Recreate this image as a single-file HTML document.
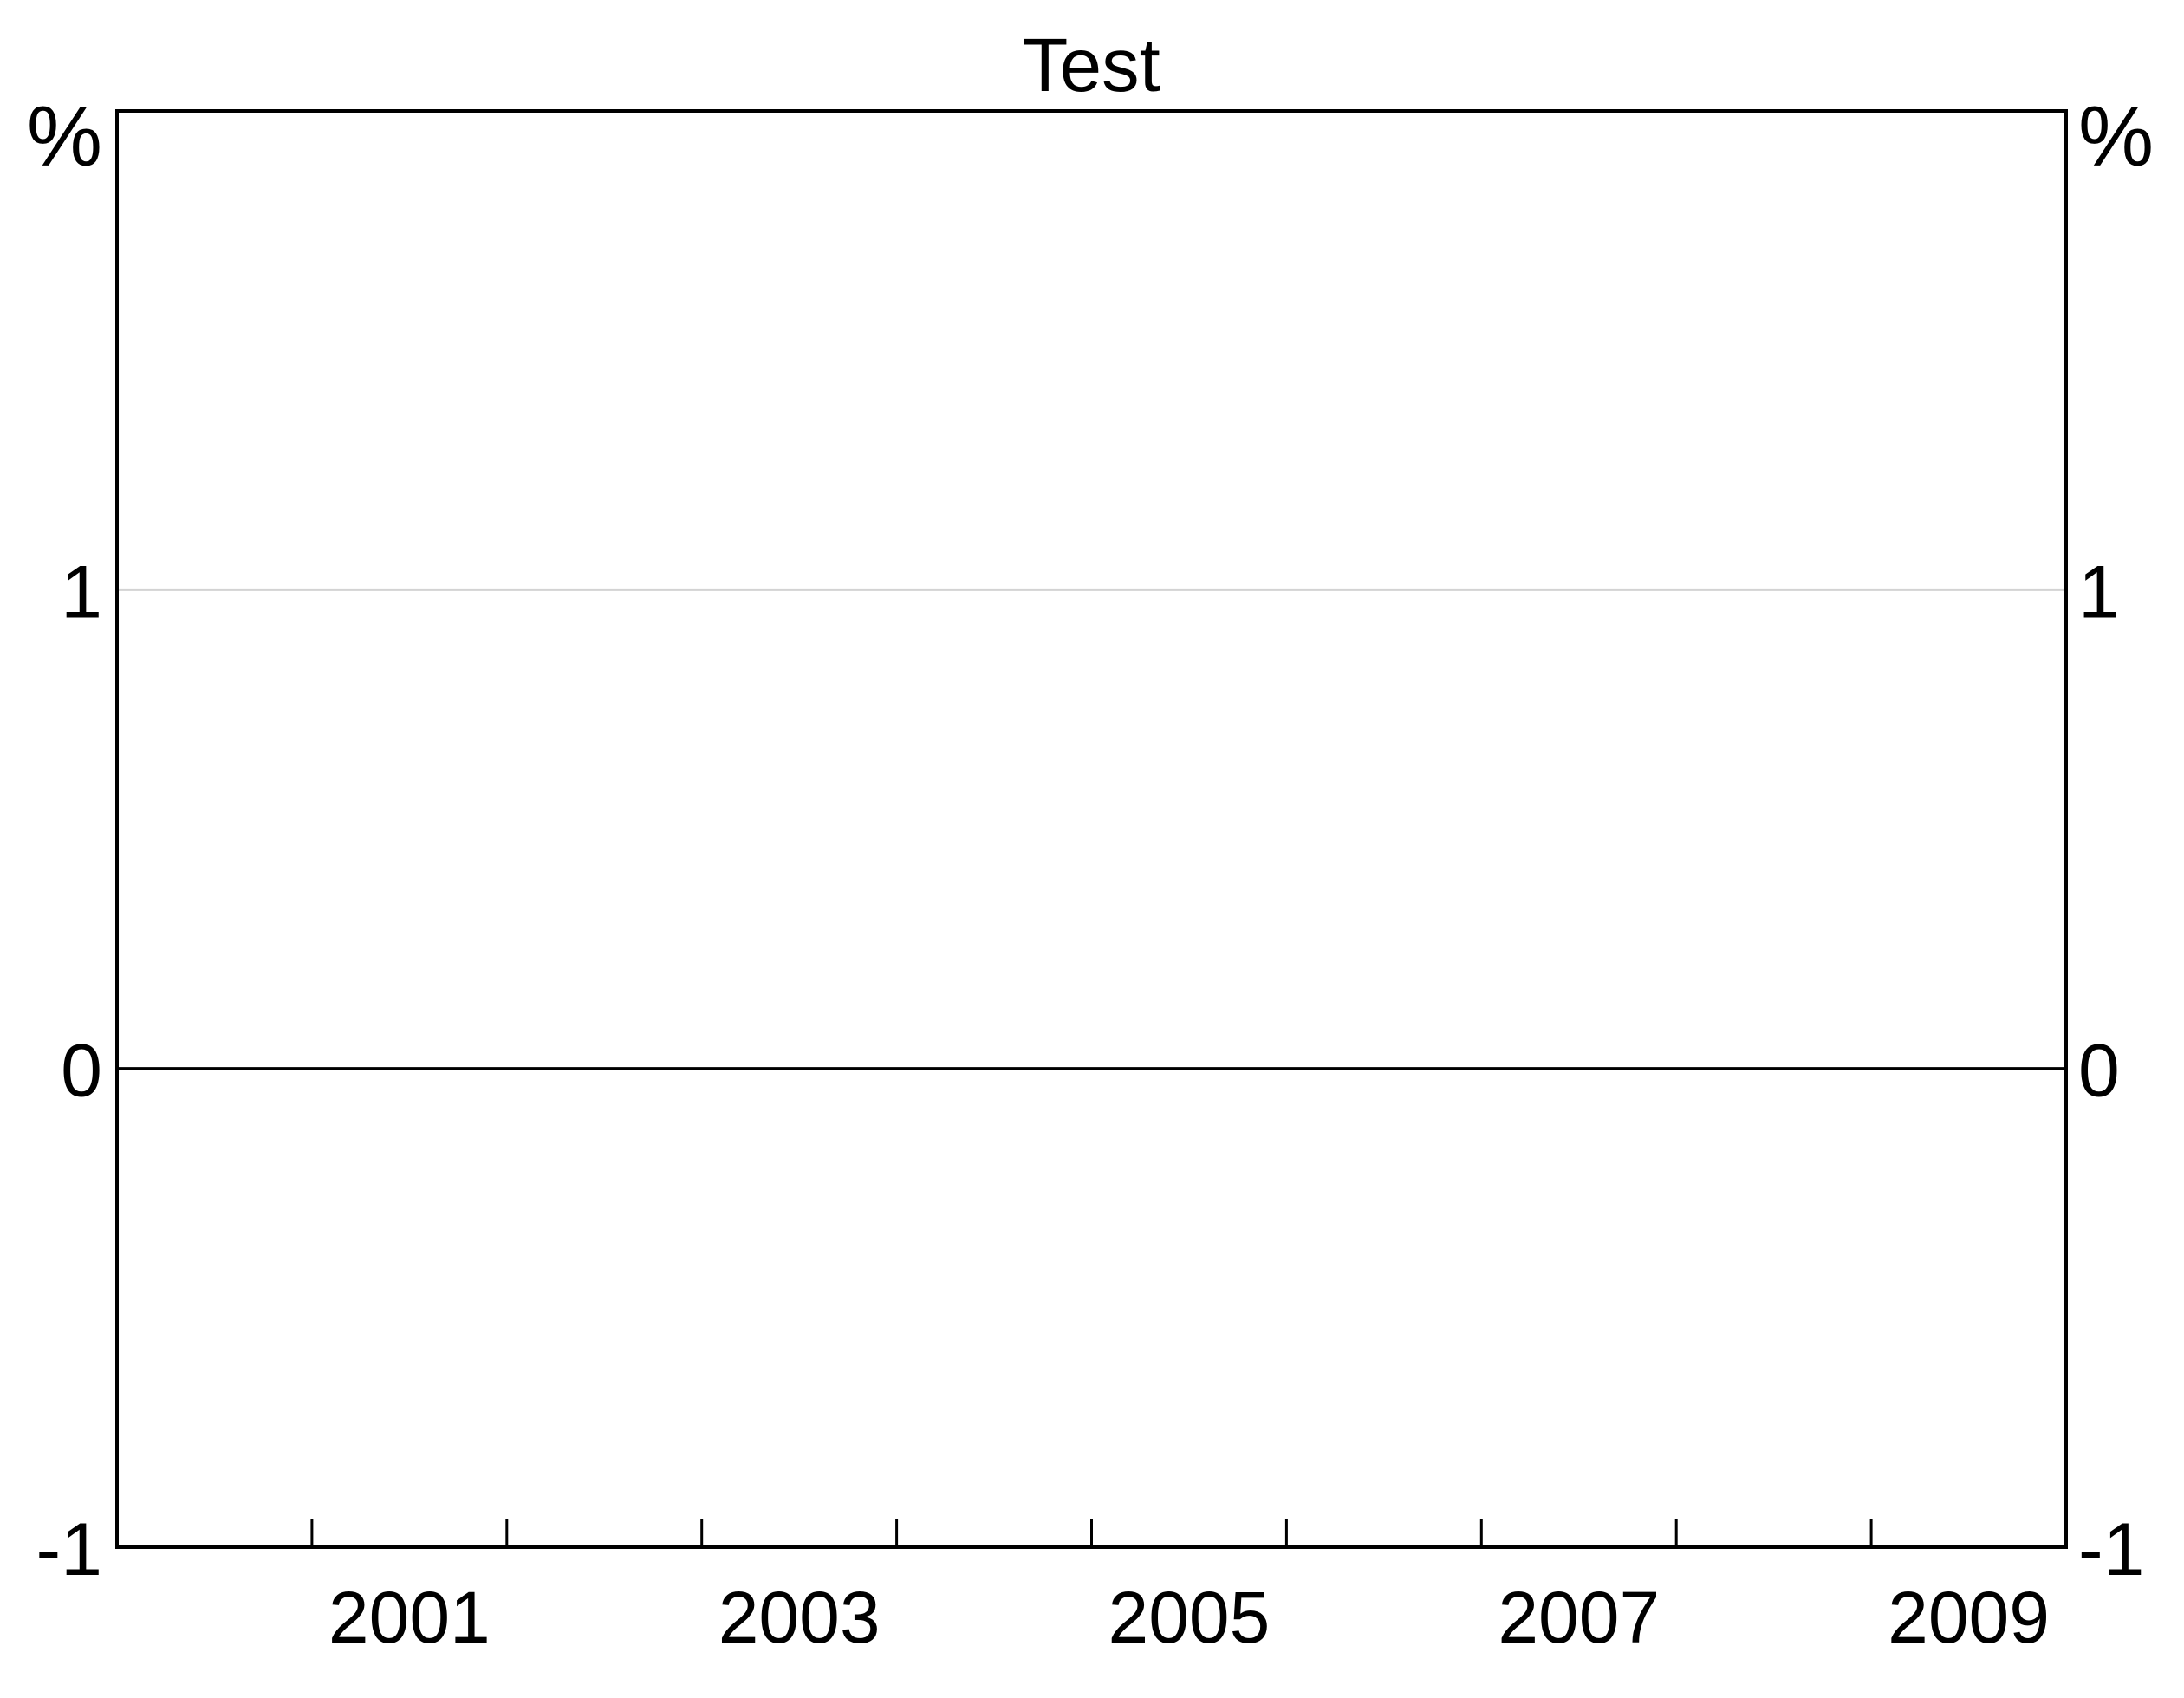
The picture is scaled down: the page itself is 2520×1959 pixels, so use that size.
<!DOCTYPE html>
<html><head><meta charset="utf-8"><style>
html,body{margin:0;padding:0;background:#fff;}
svg{display:block;font-family:"Liberation Sans",Arial,sans-serif;}
</style></head><body>
<svg id="chart" width="2520" height="1959" viewBox="0 0 2520 1959" xmlns="http://www.w3.org/2000/svg">
<rect x="0" y="0" width="2520" height="1959" fill="#fff"/>
<text x="1259" y="105" font-size="87" text-anchor="middle">Test</text>
<g id="grid"></g>
<g id="ylabels"></g>
<g id="xaxis"></g>
<rect x="135" y="128" width="2249" height="1657" fill="none" stroke="#000" stroke-width="4"/>
<text x="118" y="191" font-size="98" text-anchor="end">%</text>
<text x="2398" y="191" font-size="98" text-anchor="start">%</text>
</svg>
<script>
const yTicks = [-1, 0, 1];
const gridValues = [1];
const zeroValues = [0];
const xTickYears = [2001, 2002, 2003, 2004, 2005, 2006, 2007, 2008, 2009];
const xLabelYears = [2001, 2003, 2005, 2007, 2009];
const xDomain = [2000, 2010];
const yDomain = [-1, 2];

const L = 135, R = 2384, T = 128, B = 1785;
const NS = 'http://www.w3.org/2000/svg';
function xs(v){ return L + (v - xDomain[0]) / (xDomain[1] - xDomain[0]) * (R - L); }
function ys(v){ return B - (v - yDomain[0]) / (yDomain[1] - yDomain[0]) * (B - T); }
function mk(tag, attrs, parent){
  const e = document.createElementNS(NS, tag);
  for (const k in attrs) e.setAttribute(k, attrs[k]);
  parent.appendChild(e);
  return e;
}
const grid = document.getElementById('grid');
gridValues.forEach(v => {
  const l = mk('line', {x1: L, x2: R, y1: ys(v), y2: ys(v), stroke: '#d3d3d3', 'stroke-width': 3}, grid);
  
  
});
zeroValues.forEach(v => {
  const l = mk('line', {x1: L, x2: R, y1: ys(v), y2: ys(v), stroke: '#000', 'stroke-width': 3}, grid);
  
  
});
const yl = document.getElementById('ylabels');
yTicks.forEach(v => {
  const a = mk('text', {x: 118, y: ys(v) + 32, 'font-size': 86, 'text-anchor': 'end'}, yl);
  a.textContent = String(v);
  
  
  const b = mk('text', {x: 2398, y: ys(v) + 32, 'font-size': 86, 'text-anchor': 'start'}, yl);
  b.textContent = String(v);
  
  
});
const xa = document.getElementById('xaxis');
xTickYears.forEach(y => {
  const t = mk('line', {x1: xs(y), x2: xs(y), y1: B, y2: B - 33, stroke: '#000', 'stroke-width': 3}, xa);
  
  
});
xLabelYears.forEach(y => {
  const t = mk('text', {x: xs(y + 0.5), y: 1895, 'font-size': 84, 'text-anchor': 'middle'}, xa);
  t.textContent = String(y);
  
  
});
</script>
</body></html>
